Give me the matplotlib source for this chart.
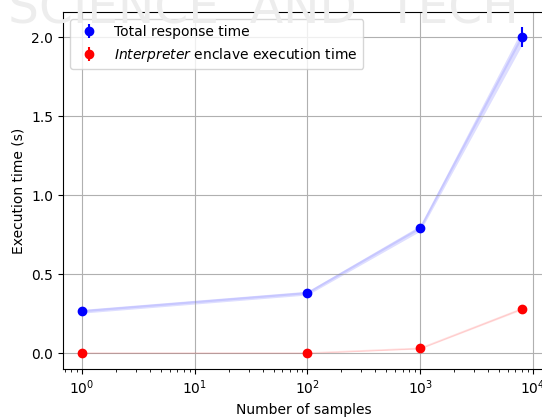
import matplotlib.pyplot as plt
import numpy as np

# Datos
muestras = np.array([1, 100, 1000, 8000])
total = np.array([0.265, 0.38, 0.79, 2.0])
total_err = np.array([0.01, 0.01, 0.015, 0.065])
interp = np.array([0.0, 0.0, 0.03, 0.28])
interp_err = np.array([0.002, 0.002, 0.005, 0.01])
total_band = np.array([0.012, 0.012, 0.018, 0.05])
interp_band = np.array([0.002, 0.002, 0.004, 0.006])

fig = plt.figure(figsize=(5.42, 4.18), dpi=100)
ax = fig.add_axes([0.116, 0.117, 0.888, 0.854])

# marca de agua
fig.text(0.015, 0.978, "SCIENCE  AND  TECH", fontsize=35, color="#ededed",
         ha="left", va="center", zorder=0)

ax.fill_between(muestras, total - total_band, total + total_band, color="blue", alpha=0.13, lw=0)
ax.plot(muestras, total, color="blue", alpha=0.1, lw=1.5)
ax.fill_between(muestras, interp - interp_band, interp + interp_band, color="red", alpha=0.1, lw=0)
ax.plot(muestras, interp, color="red", alpha=0.12, lw=1.2)

ax.errorbar(muestras, total, yerr=total_err, fmt="o", color="blue", label="Total response time")
ax.errorbar(muestras, interp, yerr=interp_err, fmt="o", color="red",
            label="$\\it{Interpreter}$ enclave execution time")

ax.set_xscale("log")
ax.set_xlim(10**-0.17, 10**4.1)
ax.set_ylim(-0.101, 2.158)
ax.set_yticks([0.0, 0.5, 1.0, 1.5, 2.0])
ax.grid(True)
ax.set_xlabel("Number of samples")
ax.set_ylabel("Execution time (s)")
ax.legend(loc="upper left")
ax.patch.set_alpha(0)

fig.savefig("out.png", dpi=100)
